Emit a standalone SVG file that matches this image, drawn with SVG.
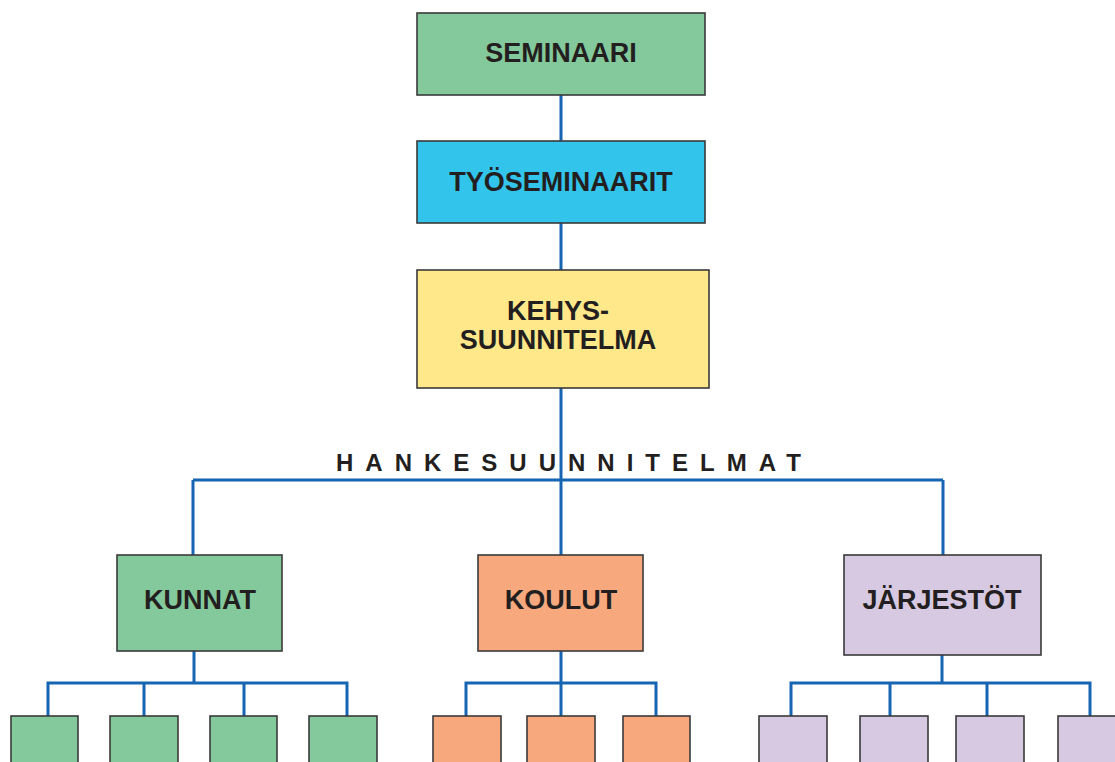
<svg xmlns="http://www.w3.org/2000/svg" width="1115" height="762" viewBox="0 0 1115 762">
<style>
.box{stroke:#3a3a3a;stroke-width:1.6}
.g{fill:#84C99B}.b{fill:#33C4EC}.y{fill:#FEE88A}.o{fill:#F7A87D}.p{fill:#D7C9E2}
.t{font-family:"Liberation Sans",Arial,sans-serif;font-weight:bold;font-size:27px;fill:#231F20;text-anchor:middle}
.c{fill:none;stroke:#1565B3;stroke-width:3}
</style>
<rect width="1115" height="762" fill="#fff"/>
<g id="connectors">
<path class="c" d="M561 95V141M561 223V270M561 388V555M193 480H943M193 480V555M943 480V555"/>
<path class="c" d="M194 651V683M48 716V683H347V716M144 683V716M244 683V716"/>
<path class="c" d="M561 651V716M466 716V683H656V716"/>
<path class="c" d="M942 655V683M791 716V683H1090V716M890 683V716M987 683V716"/>
</g>
<text id="label-hanke" x="336" y="471" font-family="Liberation Sans, Arial, sans-serif" font-weight="bold" font-size="24" letter-spacing="12" fill="#231F20">HANKESUUNNITELMAT</text>
<g id="seminaari"><rect class="box g" x="417" y="13" width="288" height="82"/><text class="t" x="561" y="62">SEMINAARI</text></g>
<g id="tyoseminaarit"><rect class="box b" x="417" y="141" width="288" height="82"/><text class="t" x="561" y="191">TYÖSEMINAARIT</text></g>
<g id="kehys"><rect class="box y" x="417" y="270" width="292" height="118"/><text class="t" x="558" y="320">KEHYS-</text><text class="t" x="558" y="349">SUUNNITELMA</text></g>
<g id="kunnat"><rect class="box g" x="117" y="555" width="165" height="96"/><text class="t" x="200" y="609">KUNNAT</text></g>
<g id="koulut"><rect class="box o" x="478" y="555" width="165" height="96"/><text class="t" x="561" y="609">KOULUT</text></g>
<g id="jarjestot"><rect class="box p" x="844" y="555" width="197" height="100"/><text class="t" x="942" y="609">JÄRJESTÖT</text></g>
<g id="kunnat-1"><rect class="box g" x="11" y="716" width="67" height="60"/></g>
<g id="kunnat-2"><rect class="box g" x="110" y="716" width="68" height="60"/></g>
<g id="kunnat-3"><rect class="box g" x="210" y="716" width="67" height="60"/></g>
<g id="kunnat-4"><rect class="box g" x="309" y="716" width="68" height="60"/></g>
<g id="koulut-1"><rect class="box o" x="433" y="716" width="68" height="60"/></g>
<g id="koulut-2"><rect class="box o" x="527" y="716" width="68" height="60"/></g>
<g id="koulut-3"><rect class="box o" x="623" y="716" width="67" height="60"/></g>
<g id="jarjestot-1"><rect class="box p" x="759" y="716" width="68" height="60"/></g>
<g id="jarjestot-2"><rect class="box p" x="860" y="716" width="68" height="60"/></g>
<g id="jarjestot-3"><rect class="box p" x="956" y="716" width="68" height="60"/></g>
<g id="jarjestot-4"><rect class="box p" x="1058" y="716" width="68" height="60"/></g>
</svg>
